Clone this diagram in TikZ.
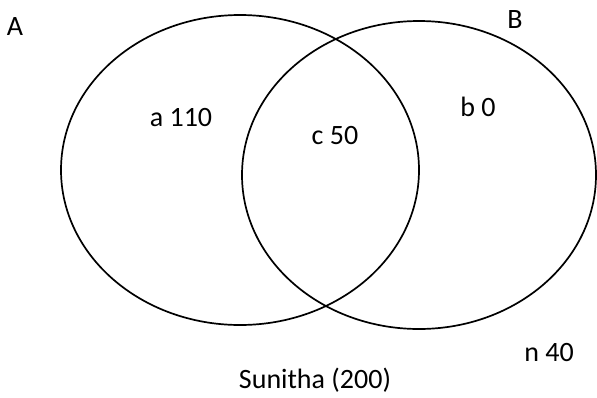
\documentclass[tikz,border=0pt]{standalone}
\usepackage{fontspec}
\setmainfont{Carlito}
\begin{document}
\begin{tikzpicture}[x=1pt,y=-1pt,
  setline/.style={line width=1.7pt, black},
  lbl/.style={anchor=base, inner sep=0pt, font=\fontsize{28}{32}\selectfont}]
\useasboundingbox (0,0) rectangle (597,397);
\fill[white] (0,0) rectangle (597,397);
\draw[setline] (240,170) ellipse [x radius=179pt, y radius=155pt];
\draw[setline] (419,175) ellipse [x radius=177pt, y radius=154pt];
\node[lbl] (lA) at (15,35) {A};
\node[lbl] (lB) at (515,28) {B};
\node[lbl] (la) at (181,126) {a 110};
\node[lbl] (lc) at (335,144) {c 50};
\node[lbl] (lb) at (478,116) {b 0};
\node[lbl] (ln) at (549,361) {n 40};
\node[lbl] (ls) at (315,388) {Sunitha (200)};
\end{tikzpicture}
\end{document}
